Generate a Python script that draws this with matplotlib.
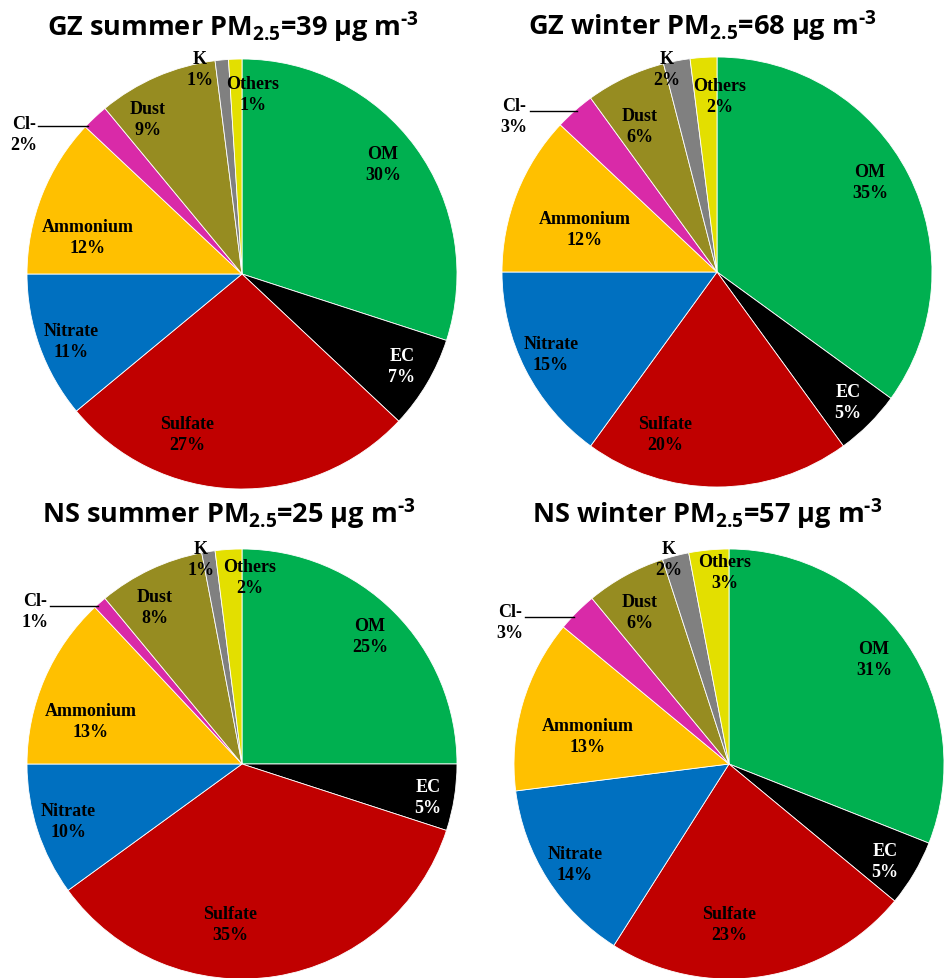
import numpy as np
import matplotlib
matplotlib.use("Agg")
from matplotlib import pyplot as plt

# chemical components, clockwise from 12 o'clock
components = ["OM", "EC", "Sulfate", "Nitrate", "Ammonium", "Cl-", "Dust", "K", "Others"]
colors = ["#00B050", "#000000", "#C00000", "#0070C0", "#FFC000",
          "#D92AA8", "#968C21", "#808080", "#E3DF00"]

# percent contributions for each site / season
gz_summer = [30, 7, 27, 11, 12, 2, 9, 1, 1]
gz_winter = [35, 5, 20, 15, 12, 3, 6, 2, 2]
ns_summer = [25, 5, 35, 10, 13, 1, 8, 1, 2]
ns_winter = [31, 5, 23, 14, 13, 3, 6, 2, 3]

sites = ["GZ", "GZ", "NS", "NS"]
seasons = ["summer", "winter", "summer", "winter"]
pm25 = [39, 68, 25, 57]

# layout (pixels in a 944x979 figure): pie centre, radius, title position
W, H = 944, 979
centres = [(242, 275), (717, 273), (242, 765), (729, 765)]
radius = 215
title_xy = [(233, 36), (702, 35), (229, 523), (707, 523)]

# label centres in pie units (radius = 1)
label_xy = [
    [(0.656, 0.512), (0.744, -0.428), (-0.256, -0.744), (-0.795, -0.312), (-0.716, 0.172),
     (-1.014, 0.651), (-0.437, 0.721), (-0.195, 0.953), (0.051, 0.837)],
    [(0.712, 0.419), (0.609, -0.605), (-0.242, -0.753), (-0.772, -0.381), (-0.614, 0.200),
     (-0.944, 0.726), (-0.358, 0.679), (-0.233, 0.944), (0.014, 0.819)],
    [(0.595, 0.595), (0.865, -0.153), (-0.056, -0.744), (-0.809, -0.265), (-0.702, 0.200),
     (-0.963, 0.712), (-0.405, 0.730), (-0.191, 0.953), (0.037, 0.870)],
    [(0.674, 0.488), (0.726, -0.451), (0.000, -0.744), (-0.716, -0.465), (-0.656, 0.130),
     (-1.019, 0.660), (-0.414, 0.707), (-0.279, 0.953), (-0.019, 0.893)],
]
# Cl- leader line: start x and height (pie units); it runs right to the pie edge
leader_x = [-0.949, -0.870, -0.893, -0.949]
leader_y = [0.688, 0.749, 0.735, 0.684]

plt.rcParams['mathtext.fontset'] = 'custom'
plt.rcParams['mathtext.rm'] = 'Open Sans:bold'
plt.rcParams['mathtext.it'] = 'Open Sans:bold'
plt.rcParams['mathtext.bf'] = 'Open Sans:bold'

fig = plt.figure(figsize=(W / 100, H / 100), dpi=100)

all_data = [gz_summer, gz_winter, ns_summer, ns_winter]
for i, values in enumerate(all_data):
    cx, cy = centres[i]
    ax = fig.add_axes([(cx - radius) / W, 1 - (cy + radius) / H, 2 * radius / W, 2 * radius / H])
    ax.pie(values, colors=colors, startangle=90, counterclock=False, radius=1,
           wedgeprops=dict(edgecolor="white", linewidth=0.6))
    ax.set_xlim(-1, 1)
    ax.set_ylim(-1, 1)
    ax.set_axis_off()

    total = sum(values)
    for j, (name, v) in enumerate(zip(components, values)):
        lx, ly = label_xy[i][j]
        pct = f"{round(100 * v / total):d}%"
        tcolor = "white" if name == "EC" else "black"
        ax.text(lx, ly, f"{name}\n{pct}", ha="center", va="center", color=tcolor,
                fontsize=13, fontweight="bold", family="Liberation Serif",
                linespacing=1.25, clip_on=False)
        if name == "Cl-":
            ey = leader_y[i]
            ex = -np.sqrt(1 - ey ** 2) + 0.01
            ax.plot([leader_x[i], ex], [ey, ey], color="black", lw=1.0, clip_on=False)

    tx, ty = title_xy[i]
    title = f"{sites[i]} {seasons[i]} PM$_{{2.5}}$=" + f"{pm25[i]} μg m$^{{\\text{{-3}}}}$"
    fig.text(tx / W, 1 - ty / H, title, ha="center", va="baseline",
             fontsize=19.5, fontweight="bold", family="Open Sans")

fig.savefig("out.png", dpi=100)
